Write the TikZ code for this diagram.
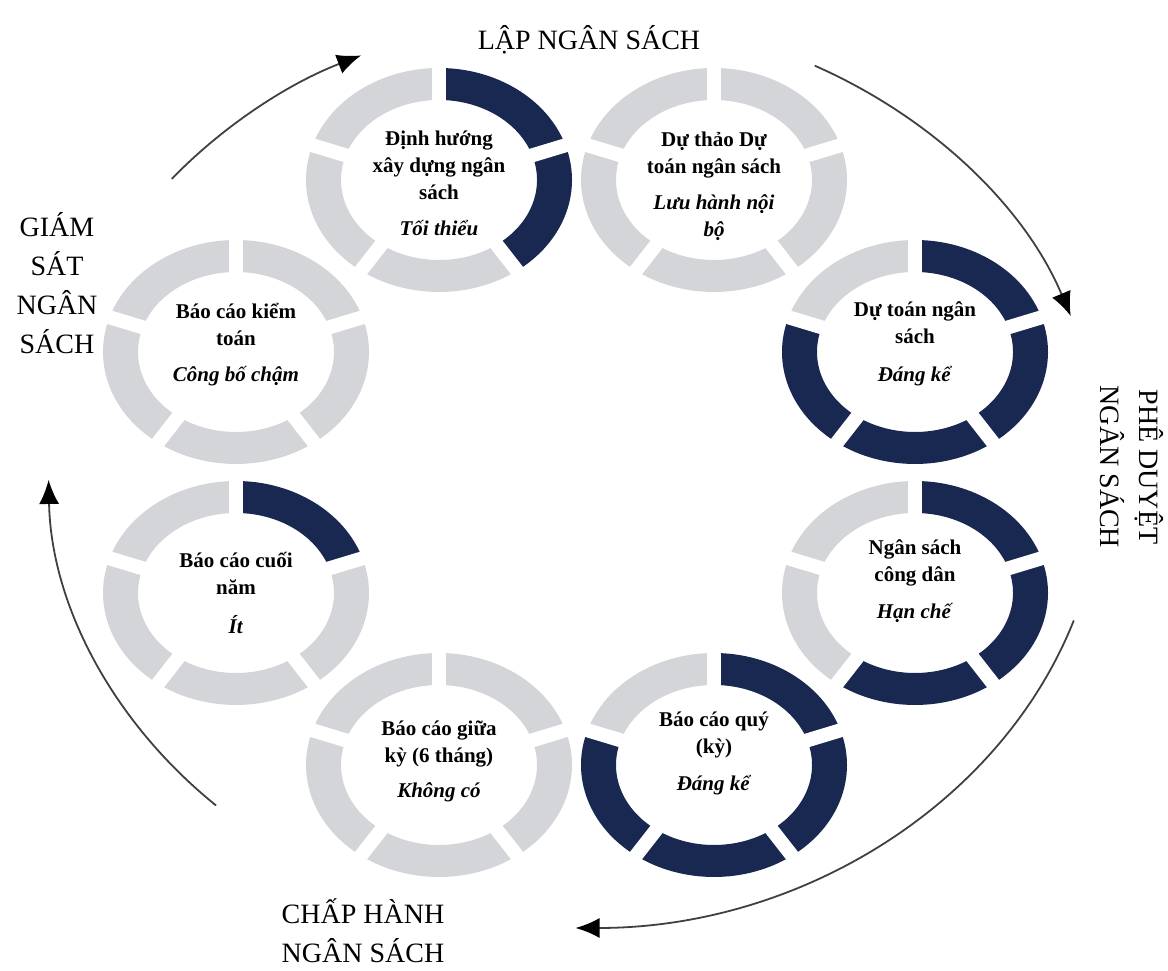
\documentclass[tikz,border=0pt]{standalone}
\usepackage{fontspec}
\setmainfont{Liberation Serif}
\usetikzlibrary{calc,arrows.meta}

\definecolor{ringnavy}{RGB}{24,40,80}
\definecolor{ringgrey}{RGB}{211,213,216}

\tikzset{
  stagetext/.style={align=center, inner sep=0pt, font=\fontsize{21}{27}\selectfont\bfseries},
  phase/.style={align=center, inner sep=0pt, font=\fontsize{28}{39}\selectfont},
  gapline/.style={white, line width=14pt},
  flow/.style={draw=black!75, line width=1.8pt, -{Latex[length=24pt,width=20pt,black]}},
}

% ring of five segments round #1, the first #2 of them dark
\newcommand{\stagering}[2]{%
  \foreach \k in {0,...,4}{
    \pgfmathsetmacro{\segA}{90-72*\k}
    \pgfmathsetmacro{\segB}{18-72*\k}
    \ifnum\k<#2\relax\def\segcol{ringnavy}\else\def\segcol{ringgrey}\fi
    \fill[\segcol] ($(#1)+(\segA:133 and 112)$)
      arc[start angle=\segA, end angle=\segB, x radius=133, y radius=112]
      -- ($(#1)+(\segB:98 and 80)$)
      arc[start angle=\segB, end angle=\segA, x radius=98, y radius=80] -- cycle;
  }
  \foreach \g in {90,18,-54,-126,162}
    \draw[gapline] ($(#1)+(\g:94 and 76)$) -- ($(#1)+(\g:137 and 116)$);
}

\begin{document}
\begin{tikzpicture}[x=1pt, y=1pt]
\useasboundingbox (0,0) rectangle (1168,971);

% ring centres
\coordinate (r1) at (439,791);
\coordinate (r2) at (714,791);
\coordinate (r3) at (915,619);
\coordinate (r4) at (915,378);
\coordinate (r5) at (714,206);
\coordinate (r6) at (439,206);
\coordinate (r7) at (236,378);
\coordinate (r8) at (236,619);

\stagering{r1}{2}
\stagering{r2}{0}
\stagering{r3}{4}
\stagering{r4}{3}
\stagering{r5}{4}
\stagering{r6}{0}
\stagering{r7}{1}
\stagering{r8}{0}

\node[stagetext] (dinhhuong) at ([yshift=-3]r1) {Định hướng\\xây dựng ngân\\sách\\[9pt]\textit{Tối thiểu}};
\node[stagetext] (duthao) at ([yshift=-6]r2) {Dự thảo Dự\\toán ngân sách\\[9pt]\textit{Lưu hành nội}\\\textit{bộ}};
\node[stagetext] (dutoan) at ([yshift=8]r3) {Dự toán ngân\\sách\\[11pt]\textit{Đáng kể}};
\node[stagetext] (congdan) at ([yshift=12]r4) {Ngân sách\\công dân\\[10pt]\textit{Hạn chế}};
\node[stagetext] (quy) at ([yshift=12]r5) {Báo cáo quý\\(kỳ)\\[10pt]\textit{Đáng kể}};
\node[stagetext] (giuaky) at ([yshift=4]r6) {Báo cáo giữa\\kỳ (6 tháng)\\[8pt]\textit{Không có}};
\node[stagetext] (cuoinam) at ([yshift=0]r7) {Báo cáo cuối\\năm\\[12pt]\textit{Ít}};
\node[stagetext] (kiemtoan) at ([yshift=7]r8) {Báo cáo kiểm\\toán\\[9pt]\textit{Công bố chậm}};

% budget cycle phases
\node[phase] (lap) at (589,931) {LẬP NGÂN SÁCH};
\node[phase, rotate=-90] (pheduyet) at (1132,504) {PHÊ DUYỆT\\NGÂN SÁCH};
\node[phase] (chaphanh) at (363,40) {CHẤP HÀNH\\NGÂN SÁCH};
\node[phase] (giamsat) at (57,688) {GIÁM\\SÁT\\NGÂN\\SÁCH};

% arrows round the cycle
\coordinate (mid) at (575.5,499);
\coordinate (f1) at ($(mid)+(140:527 and 456)$);
\coordinate (f2) at ($(mid)+(63:527 and 456)$);
\coordinate (f3) at ($(mid)+(-19:527 and 456)$);
\coordinate (f4) at ($(mid)+(227:527 and 456)$);
\draw[flow] (f1) arc[start angle=140, end angle=114, x radius=527, y radius=456];
\draw[flow] (f2) arc[start angle=63, end angle=20, x radius=527, y radius=456];
\draw[flow] (f3) arc[start angle=-19, end angle=-90, x radius=527, y radius=456];
\draw[flow] (f4) arc[start angle=227, end angle=181, x radius=527, y radius=456];
\end{tikzpicture}
\end{document}
